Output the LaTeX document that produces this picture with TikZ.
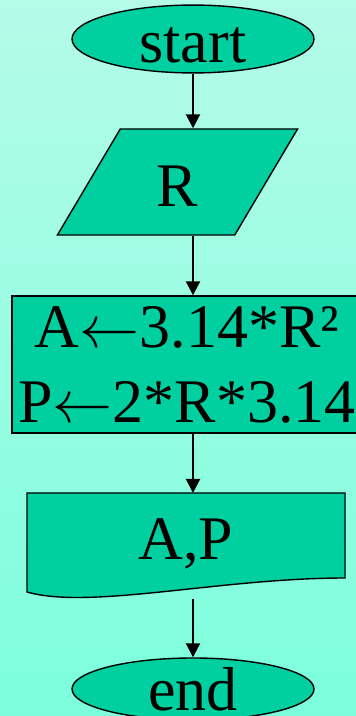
\documentclass[tikz,border=0pt]{standalone}
\usepackage{fontspec}
\setmainfont{Liberation Serif}
\usetikzlibrary{shapes.geometric, arrows.meta}

\definecolor{bgtop}{RGB}{180,251,232}
\definecolor{bgbot}{RGB}{124,254,220}
\definecolor{boxfill}{RGB}{0,208,160}

\newcommand{\assignarr}{\resizebox{60pt}{!}{\normalsize$\leftarrow$}}

\tikzset{
  flowbox/.style={draw=black, fill=boxfill, line width=1.4pt, inner sep=0pt},
  flowarrow/.style={line width=2pt, -{Triangle[width=14pt,length=14pt]}}
}

\begin{document}
\begin{tikzpicture}[x=1pt, y=1pt, every node/.style={font=\fontsize{62}{75}\selectfont}]
  \useasboundingbox (0,0) rectangle (356,716);
  \clip (0,0) rectangle (356,716);
  \shade[top color=bgtop, bottom color=bgbot] (0,0) rectangle (356,716);

  % terminals
  \node[flowbox, ellipse, minimum width=242pt, minimum height=60pt, text height=48pt, text depth=0pt] (start) at (193,677) {start};
  \node[flowbox, ellipse, minimum width=242pt, minimum height=62pt] (stop) at (193,27) {end};

  % input
  \node[flowbox, trapezium, trapezium left angle=65.6, trapezium right angle=114.4,
        trapezium stretches=true, minimum width=241pt, minimum height=106pt,
        text height=50pt, text depth=0pt] (input) at (177.5,534) {R};

  % process
  \node[flowbox, rectangle, align=center, minimum width=350pt, minimum height=137pt] (calc) at (187,351.5)
    {A\assignarr3.14*R²\\P\assignarr2*R*3.14};

  % output document
  \draw[flowbox] (27,223) -- (345,223) -- (345,138)
    .. controls (220,138) and (90,106) .. (27,124) -- cycle;
  \node (output) at (186,172) {A,P};
  \coordinate (outbot) at (193,117);

  \draw[flowarrow] (start.south) -- (start.south |- input.north);
  \draw[flowarrow] (start.south |- input.south) -- (start.south |- calc.north);
  \draw[flowarrow] (start.south |- calc.south) -- (193,223);
  \draw[flowarrow] (outbot) -- (stop.north);
\end{tikzpicture}
\end{document}
